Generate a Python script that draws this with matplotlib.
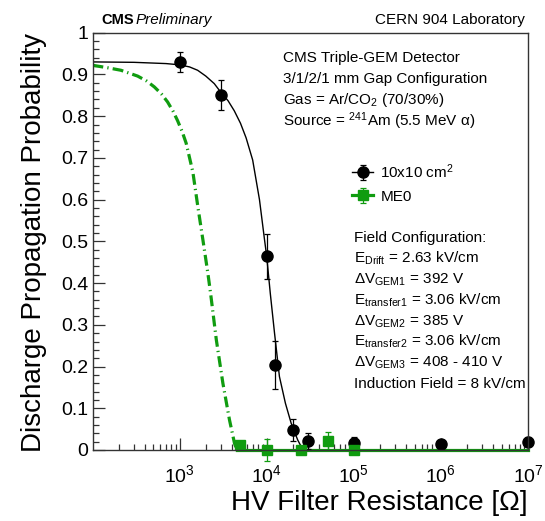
import numpy as np
import matplotlib as mpl
mpl.use('Agg')
import matplotlib.pyplot as plt
from matplotlib.lines import Line2D
from matplotlib.ticker import FixedLocator, LogLocator, NullFormatter

plt.rcParams['font.family'] = ['Liberation Sans', 'DejaVu Sans']
plt.rcParams['mathtext.fontset'] = 'custom'
plt.rcParams['mathtext.rm'] = 'Liberation Sans'
plt.rcParams['mathtext.it'] = 'Liberation Sans:italic'
plt.rcParams['mathtext.bf'] = 'Liberation Sans:bold'

# measured points, 10x10 cm2 detector
r_small = [1e3, 3e3, 1e4, 1.25e4, 2e4, 3e4, 1e5, 1e6, 1e7]
p_small = [0.929, 0.851, 0.464, 0.204, 0.048, 0.022, 0.016, 0.014, 0.020]
e_small = [0.024, 0.036, 0.054, 0.058, 0.026, 0.019, 0.014, 0.010, 0.010]

# measured points, ME0
r_me0 = [5e3, 1e4, 2.5e4, 5e4, 1e5]
p_me0 = [0.012, 0.0, 0.0, 0.022, 0.0]
e_me0 = [0.006, 0.026, 0.0, 0.022, 0.0]

# fit curves
fit_small_r = [100, 300, 700, 1e3, 1.3e3, 1.61e3, 2.0e3, 2.5e3, 2.98e3, 3.6e3, 4.24e3,
               5.0e3, 5.8e3, 6.9e3, 8.26e3, 9.44e3, 1.0e4, 1.1e4, 1.23e4, 1.4e4,
               1.64e4, 1.91e4, 2.27e4, 2.49e4, 2.6e4]
fit_small_p = [0.930, 0.929, 0.926, 0.923, 0.918, 0.910, 0.896, 0.878, 0.857, 0.837, 0.813,
               0.783, 0.748, 0.695, 0.600, 0.504, 0.464, 0.375, 0.280, 0.176,
               0.112, 0.064, 0.024, 0.008, 0.0]
fit_me0_r = [100, 149, 212, 330, 420, 513, 620, 728, 840, 949, 1.07e3, 1.19e3, 1.42e3,
             1.62e3, 1.85e3, 2.11e3, 2.27e3, 2.64e3, 3.14e3, 3.74e3, 4.27e3, 4.54e3]
fit_me0_p = [0.922, 0.916, 0.910, 0.896, 0.884, 0.870, 0.853, 0.834, 0.812, 0.789, 0.763, 0.735, 0.666,
             0.583, 0.504, 0.424, 0.375, 0.264, 0.160, 0.072, 0.016, 0.0]
flat_me0_r = [4.54e3, 1e7]
flat_me0_p = [0.0, 0.0]

y_ticks = [0.0, 0.1, 0.2, 0.3, 0.4, 0.5, 0.6, 0.7, 0.8, 0.9, 1.0]
y_labels = ['0', '0.1', '0.2', '0.3', '0.4', '0.5', '0.6', '0.7', '0.8', '0.9', '1']
x_ticks = [1e3, 1e4, 1e5, 1e6, 1e7]
x_labels = [r'$10^{3}$', r'$10^{4}$', r'$10^{5}$', r'$10^{6}$', r'$10^{7}$']

green = '#109c10'
W, H = 545, 521

def fx(px):
   return px / W

def fy(py):
   return 1 - py / H

fig = plt.figure(figsize=(W/100, H/100), dpi=100)
ax = fig.add_axes([fx(92.5), fy(450), (528-92.5)/W, (450-32.7)/H])

ax.plot(fit_small_r, fit_small_p, '-', color='black', lw=1.0)
ax.plot(fit_me0_r, fit_me0_p, color=green, lw=2.3,
        linestyle=(0, (3.4, 1.3, 0.4, 1.3)))
ax.plot(flat_me0_r, flat_me0_p, '-', color=green, lw=2.3, clip_on=False)

eb1 = ax.errorbar(r_small, p_small, yerr=e_small, fmt='o', color='black',
                  ms=8, elinewidth=0.9, capsize=2, capthick=0.9)
eb2 = ax.errorbar(r_me0, p_me0, yerr=e_me0, fmt='s', color=green,
                  ms=7, elinewidth=0.9, capsize=2, capthick=0.9)
for c in (eb1, eb2):
   for a in c.get_children():
      a.set_clip_on(False)

ax.set_xscale('log')
ax.set_xlim(100, 1e7)
ax.set_ylim(0, 1)
ax.set_xticks(x_ticks)
ax.set_xticklabels(x_labels)
ax.xaxis.set_minor_locator(LogLocator(base=10, subs=np.arange(2, 10)))
ax.xaxis.set_minor_formatter(NullFormatter())
ax.set_yticks(y_ticks)
ax.set_yticklabels(y_labels)
ax.yaxis.set_minor_locator(FixedLocator(np.arange(0, 1.001, 0.02)))

ax.tick_params(axis='both', which='both', direction='in', top=False, right=False, colors='#333333')
ax.tick_params(axis='y', which='major', length=8.5, width=0.9, pad=3, labelsize=14, labelcolor='black')
ax.tick_params(axis='y', which='minor', length=4.5, width=0.9)
ax.tick_params(axis='x', which='major', length=8.5, width=0.9, pad=10, labelsize=14, labelcolor='black')
ax.tick_params(axis='x', which='minor', length=4, width=0.9)
for s in ax.spines.values():
   s.set_color('#333333')
   s.set_linewidth(1.0)

ax.set_xlabel('HV Filter Resistance [Ω]', fontsize=20, loc='right', labelpad=3)
ax.set_ylabel('Discharge Propagation Probability', fontsize=20, loc='top', labelpad=10)

# header
fig.text(fx(101.7), fy(24), 'CMS', fontsize=10.5, fontweight='bold', va='baseline')
fig.text(fx(136), fy(24), 'Preliminary', fontsize=11, style='italic', va='baseline')
fig.text(fx(525), fy(24), 'CERN 904 Laboratory', fontsize=11, ha='right', va='baseline')

# detector description
info = ['CMS Triple-GEM Detector',
        '3/1/2/1 mm Gap Configuration',
        'Gas = Ar/CO$_{2}$ (70/30%)',
        'Source = $^{241}$Am (5.5 MeV α)']
for i, t in enumerate(info):
   fig.text(fx(283), fy(62 + 21.2*i), t, fontsize=11, va='baseline')

field = ['Field Configuration:',
         r'E$_{\mathregular{Drift}}$ = 2.63 kV/cm',
         r'ΔV$_{\mathregular{GEM1}}$ = 392 V',
         r'E$_{\mathregular{transfer1}}$ = 3.06 kV/cm',
         r'ΔV$_{\mathregular{GEM2}}$ = 385 V',
         r'E$_{\mathregular{transfer2}}$ = 3.06 kV/cm',
         r'ΔV$_{\mathregular{GEM3}}$ = 408 - 410 V',
         'Induction Field = 8 kV/cm']
for i, t in enumerate(field):
   fig.text(fx(354), fy(242 + 20.8*i), t, fontsize=11, va='baseline')

# legend
h1 = (Line2D([], [], color='black', lw=1.0), eb1)
h2 = (Line2D([], [], color=green, lw=2.3), eb2)
fig.legend([h1, h2], ['10x10 cm$^{2}$', 'ME0'], loc='upper left',
           bbox_to_anchor=(fx(352), fy(162)), frameon=False, fontsize=11,
           handlelength=1.4, handletextpad=0.45, labelspacing=0.6,
           borderpad=0, borderaxespad=0)

plt.savefig('out.png', dpi=100)
